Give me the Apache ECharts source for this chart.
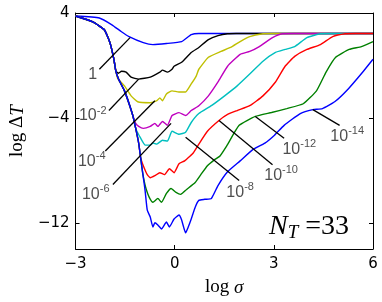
<!DOCTYPE html>
<html><head><meta charset="utf-8">
<script src="https://cdn.jsdelivr.net/npm/echarts@6/dist/echarts.min.js"></script>
<style>html,body{margin:0;padding:0;background:#fff}#c{width:382px;height:302px}</style>
</head><body><div id="c"></div>
<script>
// ---- data (log sigma, log DeltaT) ----
const xTicks = [-3, 0, 3, 6];
const yTicks = [-12, -4, 4];
const curveLabels = ['1', '10^-2', '10^-4', '10^-6', '10^-8', '10^-10', '10^-12', '10^-14'];
const curveColors = ['#0000ff', '#000000', '#bfbf00', '#bf00bf', '#00bfbf', '#ff0000', '#008000', '#0000ff'];

const c_1 = [[-3,3.77],[-2.28,3.62],[-1.90,3.10],[-1.61,2.57],[-1.38,2.20],[-0.95,1.74],[-0.66,1.59],[-0.25,1.67],[0.21,1.82],[0.50,2.35],[0.73,2.44],[6,2.44]];
const c_1e2 = [[-3,3.77],[-2.48,3.32],[-2.13,2.72],[-1.96,1.74],[-1.84,0.47],[-1.78,-0.44],[-1.70,-0.59],[-1.61,-0.44],[-1.47,-0.51],[-1.32,-0.89],[-1.09,-1.04],[-0.74,-0.89],[-0.45,-0.51],[-0.37,-0.36],[-0.22,-0.51],[-0.08,-0.29],[-0.02,-0.06],[0.21,0.24],[0.50,0.99],[0.73,1.37],[1.02,1.97],[1.31,2.27],[1.60,2.42],[1.86,2.44],[6,2.44]];
const c_1e4 = [[-3,3.77],[-2.48,3.32],[-2.13,2.72],[-1.96,1.74],[-1.84,0.47],[-1.78,-0.44],[-1.73,-0.96],[-1.52,-1.56],[-1.32,-2.32],[-1.12,-2.77],[-0.74,-2.84],[-0.54,-2.69],[-0.45,-2.47],[-0.37,-2.69],[-0.25,-2.17],[-0.08,-1.94],[0.13,-2.02],[0.33,-2.02],[0.50,-1.41],[0.65,-0.81],[0.73,-0.29],[1.02,0.62],[1.40,1.07],[1.69,1.37],[1.98,1.82],[2.27,2.20],[2.67,2.42],[2.96,2.44],[6,2.44]];
const c_1e6 = [[-3,3.77],[-2.48,3.32],[-2.13,2.72],[-1.96,1.74],[-1.84,0.47],[-1.78,-0.44],[-1.70,-1.04],[-1.52,-1.94],[-1.38,-2.92],[-1.26,-3.89],[-1.18,-4.42],[-1.09,-4.65],[-0.95,-4.80],[-0.74,-4.65],[-0.60,-4.42],[-0.51,-4.65],[-0.37,-4.27],[-0.22,-4.57],[-0.08,-3.82],[0.13,-3.60],[0.33,-3.82],[0.50,-3.44],[0.73,-3.07],[1.02,-2.32],[1.31,-1.26],[1.60,-0.06],[1.98,0.84],[2.27,1.07],[2.56,1.44],[2.96,2.12],[3.25,2.42],[3.60,2.44],[6,2.44]];
const c_1e8 = [[-3,3.77],[-2.48,3.32],[-2.13,2.72],[-1.96,1.74],[-1.84,0.47],[-1.78,-0.44],[-1.70,-1.04],[-1.52,-1.94],[-1.38,-2.92],[-1.26,-3.89],[-1.18,-4.80],[-1.03,-5.55],[-0.89,-6.08],[-0.74,-6.08],[-0.66,-5.92],[-0.54,-6.00],[-0.37,-5.70],[-0.22,-5.77],[-0.08,-5.02],[0.13,-5.25],[0.33,-5.10],[0.50,-4.35],[0.73,-3.67],[1.11,-3.07],[1.51,-2.32],[1.89,-1.56],[2.27,-0.66],[2.67,0.32],[3.05,0.99],[3.34,1.22],[3.63,1.44],[4.00,2.12],[4.41,2.42],[4.76,2.44],[6,2.44]];
const c_1e10 = [[-3,3.77],[-2.48,3.32],[-2.13,2.72],[-1.96,1.74],[-1.84,0.47],[-1.78,-0.44],[-1.70,-1.04],[-1.52,-1.94],[-1.38,-2.92],[-1.26,-3.89],[-1.18,-4.80],[-1.09,-5.92],[-1.03,-7.05],[-0.95,-7.65],[-0.83,-8.33],[-0.74,-8.56],[-0.60,-8.41],[-0.45,-8.18],[-0.31,-8.33],[-0.16,-7.88],[-0.02,-8.18],[0.13,-7.50],[0.30,-7.28],[0.47,-6.90],[0.56,-6.68],[0.73,-6.00],[0.99,-5.02],[1.34,-4.20],[1.60,-3.74],[1.89,-3.44],[2.27,-3.07],[2.67,-2.32],[3.05,-1.26],[3.34,-0.06],[3.63,0.69],[4.00,1.22],[4.41,1.59],[4.78,2.20],[5.16,2.42],[5.48,2.44],[6,2.44]];
const c_1e12 = [[-3,3.77],[-2.48,3.32],[-2.13,2.72],[-1.96,1.74],[-1.84,0.47],[-1.78,-0.44],[-1.70,-1.04],[-1.52,-1.94],[-1.38,-2.92],[-1.26,-3.89],[-1.18,-4.80],[-1.09,-5.92],[-1.03,-7.05],[-0.97,-8.18],[-0.92,-8.86],[-0.86,-9.46],[-0.77,-10.06],[-0.66,-10.44],[-0.51,-10.14],[-0.40,-10.44],[-0.25,-9.76],[-0.11,-9.38],[0.04,-9.68],[0.18,-9.83],[0.36,-9.46],[0.62,-8.93],[0.79,-8.33],[0.99,-7.65],[1.20,-7.20],[1.37,-6.90],[1.57,-6.15],[1.95,-4.57],[2.44,-3.89],[2.93,-3.59],[3.39,-3.29],[3.89,-2.92],[4.29,-1.94],[4.58,-0.51],[4.87,0.62],[5.28,1.22],[5.65,1.44],[6.00,1.82]];
const c_1e14 = [[-3,3.77],[-2.48,3.32],[-2.13,2.72],[-1.96,1.74],[-1.84,0.47],[-1.78,-0.44],[-1.70,-1.04],[-1.52,-1.94],[-1.38,-2.92],[-1.26,-3.89],[-1.18,-4.80],[-1.09,-5.92],[-1.03,-7.05],[-0.97,-8.18],[-0.92,-9.08],[-0.89,-9.68],[-0.83,-11.04],[-0.74,-11.56],[-0.66,-12.32],[-0.60,-12.00],[-0.51,-12.17],[-0.40,-12.47],[-0.25,-11.94],[-0.16,-12.32],[-0.02,-11.71],[0.13,-11.41],[0.21,-11.79],[0.33,-12.77],[0.41,-12.32],[0.50,-11.71],[0.62,-10.81],[0.73,-10.29],[0.91,-10.21],[1.11,-10.14],[1.31,-9.16],[1.60,-8.11],[1.98,-7.28],[2.38,-6.38],[2.73,-5.92],[3.02,-5.32],[3.31,-4.57],[3.80,-3.67],[4.18,-3.37],[4.47,-3.29],[4.84,-2.77],[5.25,-1.79],[5.71,-0.44],[6.00,0.47]];
const curves = [c_1, c_1e2, c_1e4, c_1e6, c_1e8, c_1e10, c_1e12, c_1e14];

// leader lines: [label end] -> [point on curve], and label centres (data units)
const leaderFrom = [[-2.28,-0.29],[-1.99,-3.44],[-2.10,-6.53],[-1.87,-9.08],[1.95,-8.78],[2.96,-7.58],[3.31,-5.55],[4.99,-4.57]];
const leaderTo   = [[-1.35,2.12],[-1.09,-1.04],[-0.60,-2.69],[-0.11,-4.42],[0.33,-5.47],[1.34,-4.20],[2.44,-3.89],[4.18,-3.37]];
const labelPos   = [[-2.48,-0.59],[-2.48,-3.74],[-2.51,-7.20],[-2.39,-9.76],[1.98,-9.61],[3.22,-8.26],[3.77,-6.30],[5.22,-5.32]];

function fmtLabel(s){
  if (s.indexOf('^') < 0) return '{b|' + s + '}';
  const p = s.split('^');
  return '{b|' + p[0] + '}{s|' + p[1] + '}';
}

const chart = echarts.init(document.getElementById('c'), null, {renderer:'canvas'});
const series = [];
curves.forEach((d, i) => {
  series.push({type:'line', data:d, showSymbol:false, smooth:0.15, lineStyle:{color:curveColors[i], width:1.4}, z:2+i, silent:true});
});
leaderFrom.forEach((a, i) => {
  series.push({type:'line', data:[a, leaderTo[i]], showSymbol:false, lineStyle:{color:'#000', width:1.3}, z:20, silent:true});
});
series.push({
  type:'scatter', symbolSize:0, z:21, silent:true,
  data: labelPos.map((p, i) => ({value:p, name:curveLabels[i]})),
  label:{show:true, position:'inside', formatter:(p)=>fmtLabel(p.name),
    rich:{b:{fontSize:16, fontFamily:'Liberation Sans', color:'#222', lineHeight:19, verticalAlign:'bottom'},
          s:{fontSize:11, fontFamily:'Liberation Sans', color:'#222', lineHeight:19, verticalAlign:'top'}}}
});

const axisCommon = {axisLine:{show:true, onZero:false, lineStyle:{color:'#000', width:1}}, splitLine:{show:false}};
chart.setOption({
  animation:false,
  grid:{left:62, right:9, top:13, bottom:50},
  xAxis:[
    Object.assign({type:'value', min:-3, max:6, interval:3, position:'bottom',
      axisTick:{show:true, inside:true, length:4, lineStyle:{color:'#000'}},
      axisLabel:{color:'#000', fontSize:15, fontFamily:'DejaVu Sans', margin:8, formatter:(v)=>String(v).replace('-','\u2212')},
      name:'{a|log }{i|\u03C3}', nameLocation:'middle', nameGap:29,
      nameTextStyle:{rich:{a:{fontSize:19, fontFamily:'Liberation Serif', color:'#000'}, i:{fontSize:19, fontFamily:'Liberation Serif', fontStyle:'italic', color:'#000'}}}
    }, axisCommon),
    Object.assign({type:'value', min:-3, max:6, interval:3, position:'top',
      axisTick:{show:true, inside:true, length:4, lineStyle:{color:'#000'}}, axisLabel:{show:false}}, axisCommon)
  ],
  yAxis:[
    Object.assign({type:'value', min:-14, max:4, position:'left',
      axisTick:{show:true, inside:true, length:4, customValues:yTicks, lineStyle:{color:'#000'}},
      axisLabel:{color:'#000', fontSize:15, fontFamily:'DejaVu Sans', margin:6, customValues:yTicks, formatter:(v)=>String(v).replace('-','\u2212')},
      name:'{a|log \u0394}{i|T}', nameLocation:'middle', nameGap:38, nameRotate:90,
      nameTextStyle:{rich:{a:{fontSize:19, fontFamily:'Liberation Serif', color:'#000'}, i:{fontSize:19, fontFamily:'Liberation Serif', fontStyle:'italic', color:'#000'}}}
    }, axisCommon),
    Object.assign({type:'value', min:-14, max:4, position:'right',
      axisTick:{show:true, inside:true, length:4, customValues:yTicks, lineStyle:{color:'#000'}}, axisLabel:{show:false}}, axisCommon)
  ],
  series: series,
  graphic:[{type:'text', right:33, bottom:60, z:30,
    style:{rich:{n:{fontSize:28, fontFamily:'Liberation Serif', fontStyle:'italic', fill:'#000'},
                 t:{fontSize:19, fontFamily:'Liberation Serif', fontStyle:'italic', fill:'#000', padding:[12,0,0,0]},
                 e:{fontSize:28, fontFamily:'Liberation Serif', fill:'#000'}},
      text:'{n|N}{t|T}{e| =33}'}}]
});
</script></body></html>
